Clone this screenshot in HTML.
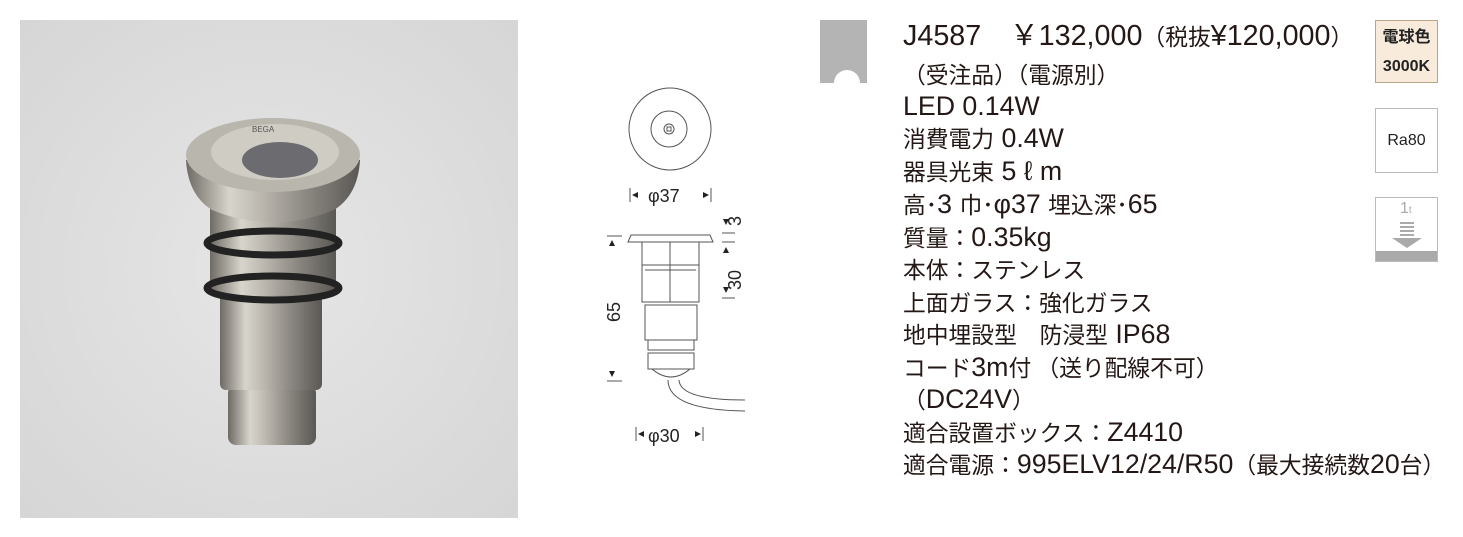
<!DOCTYPE html>
<html><head><meta charset="utf-8"><style>
body{margin:0;width:1463px;height:537px;background:#fff;position:relative;overflow:hidden;font-family:"Liberation Sans","Noto Sans CJK JP",sans-serif;}
.t{position:absolute;left:903px;font-size:27px;color:#231815;white-space:nowrap;line-height:1;transform-origin:0 0;transform:scaleX(0.99);}
.t i{font-style:normal;font-size:23px;font-family:"Noto Sans CJK JP",sans-serif;}
.b{position:absolute;left:1375px;width:63px;border:1px solid #bbb;box-sizing:border-box;font-size:16px;text-align:center;color:#222;}
</style></head><body>
<svg style="position:absolute;left:0;top:0" width="1463" height="537">
<defs>
<linearGradient id="m" x1="0" x2="1"><stop offset="0" stop-color="#6e6a64"/><stop offset=".25" stop-color="#d8d5cc"/><stop offset=".45" stop-color="#b8b4ac"/><stop offset=".7" stop-color="#8a8680"/><stop offset="1" stop-color="#5a5854"/></linearGradient>
<radialGradient id="bg" cx=".5" cy=".5" r=".7"><stop offset="0" stop-color="#e6e6e6"/><stop offset="1" stop-color="#d6d6d6"/></radialGradient>
</defs>
<rect x="20" y="20" width="498" height="498" fill="url(#bg)"/>
<rect x="228" y="385" width="88" height="60" rx="8" fill="url(#m)"/>
<rect x="220" y="290" width="102" height="100" rx="6" fill="url(#m)"/>
<rect x="210" y="200" width="126" height="95" fill="url(#m)"/>
<ellipse cx="273" cy="243" rx="66" ry="12" fill="none" stroke="#222" stroke-width="7"/>
<ellipse cx="273" cy="288" rx="66" ry="12" fill="none" stroke="#222" stroke-width="7"/>
<path d="M186 160 Q188 195 212 210 Q273 235 334 210 Q358 195 360 160 Z" fill="url(#m)"/>
<ellipse cx="273" cy="155" rx="87" ry="37" fill="#b9b6ae"/>
<ellipse cx="275" cy="152" rx="64" ry="28" fill="#cfccc3"/>
<ellipse cx="280" cy="160" rx="38" ry="18" fill="#6c6c70"/>
<text x="252" y="132" font-size="8" font-family="Liberation Sans" fill="#555">BEGA</text>
<g stroke="#555" fill="none" stroke-width="1">
<circle cx="670" cy="129" r="41"/><circle cx="669" cy="129" r="18"/><circle cx="669" cy="129" r="5"/><rect x="667" y="127" width="4" height="4"/>
<line x1="630" y1="188" x2="630" y2="202"/><line x1="711" y1="188" x2="711" y2="202"/>
<path d="M631 235 L710 235 L713 242 L628 242 Z"/>
<rect x="642" y="242" width="57" height="60"/><line x1="670" y1="242" x2="670" y2="302"/>
<line x1="642" y1="265" x2="699" y2="265"/><line x1="645" y1="270" x2="696" y2="270"/>
<rect x="645" y="305" width="52" height="35"/><rect x="648" y="340" width="46" height="10"/>
<rect x="648" y="353" width="46" height="16"/><path d="M652 369 Q671 385 690 369"/>
<path d="M668 380 Q668 410 745 411"/><path d="M679 380 Q680 400 745 400"/>
<line x1="607" y1="236" x2="622" y2="236"/><line x1="607" y1="381" x2="622" y2="381"/>
<line x1="722" y1="233" x2="735" y2="233"/><line x1="722" y1="242" x2="735" y2="242"/><line x1="722" y1="298" x2="735" y2="298"/>
<line x1="636" y1="427" x2="636" y2="441"/><line x1="703" y1="427" x2="703" y2="441"/>
</g>
<g fill="#222">
<path d="M632 195 l6 -3 v6z"/><path d="M709 195 l-6 -3 v6z"/>
<path d="M612 240 l-3 6 h6z"/><path d="M612 377 l-3 -6 h6z"/>
<path d="M726 225 l-3 -6 h6z"/><path d="M726 247 l-3 6 h6z"/><path d="M726 293 l-3 -6 h6z"/>
<path d="M638 434 l6 -3 v6z"/><path d="M701 434 l-6 -3 v6z"/>
</g>
<g font-family="Liberation Sans" font-size="18" fill="#222">
<text x="648" y="202">φ37</text><text x="648" y="442">φ30</text>
<text transform="translate(620,322) rotate(-90)">65</text>
<text transform="translate(741,290) rotate(-90)">30</text>
<text transform="translate(741,226) rotate(-90)">3</text>
</g>
<rect x="820" y="20" width="47" height="63" fill="#b4b4b4"/>
<path d="M834 83 A13 13 0 0 1 860 83 Z" fill="#fff"/>
</svg>
<div class="t" style="top:22px;font-size:29px">J4587　￥132,000<i>（税抜</i>¥120,000<i>）</i></div>
<div class="t" style="top:61px"><i>（受注品）（電源別）</i></div>
<div class="t" style="top:93px">LED 0.14W</div>
<div class="t" style="top:125px"><i>消費電力</i> 0.4W</div>
<div class="t" style="top:158px"><i>器具光束</i> 5 ℓ m</div>
<div class="t" style="top:191px"><i>高･</i>3 <i>巾･</i>φ37 <i>埋込深･</i>65</div>
<div class="t" style="top:224px"><i>質量：</i>0.35kg</div>
<div class="t" style="top:256px"><i>本体：ステンレス</i></div>
<div class="t" style="top:289px"><i>上面ガラス：強化ガラス</i></div>
<div class="t" style="top:321px"><i>地中埋設型　防浸型</i> IP68</div>
<div class="t" style="top:354px"><i>コード</i>3m<i>付 （送り配線不可）</i></div>
<div class="t" style="top:386px"><i>（</i>DC24V<i>）</i></div>
<div class="t" style="top:419px"><i>適合設置ボックス：</i>Z4410</div>
<div class="t" style="top:451px"><i>適合電源：</i>995ELV12/24/R50<i>（最大接続数</i>20<i>台）</i></div>
<div class="b" style="top:20px;height:63px;background:#f8ebdc;border-color:#b9a48c;font-weight:bold;line-height:29px;padding-top:2px">電球色<br>3000K</div>
<div class="b" style="top:108px;height:65px;line-height:63px">Ra80</div>
<div class="b" style="top:197px;height:65px;overflow:hidden">
<div style="position:absolute;left:24px;top:2px;font-size:16px;color:#aaa">1<span style="font-size:10px">t</span></div>
<div style="position:absolute;left:24px;top:24px;width:14px;height:16px;background:repeating-linear-gradient(#aaa 0 2px,#fff 2px 4px)"></div>
<div style="position:absolute;left:16px;top:40px;width:0;height:0;border-left:15px solid transparent;border-right:15px solid transparent;border-top:10px solid #aaa"></div>
<div style="position:absolute;left:0;bottom:0;width:63px;height:10px;background:#aaa"></div>
</div>
</body></html>
